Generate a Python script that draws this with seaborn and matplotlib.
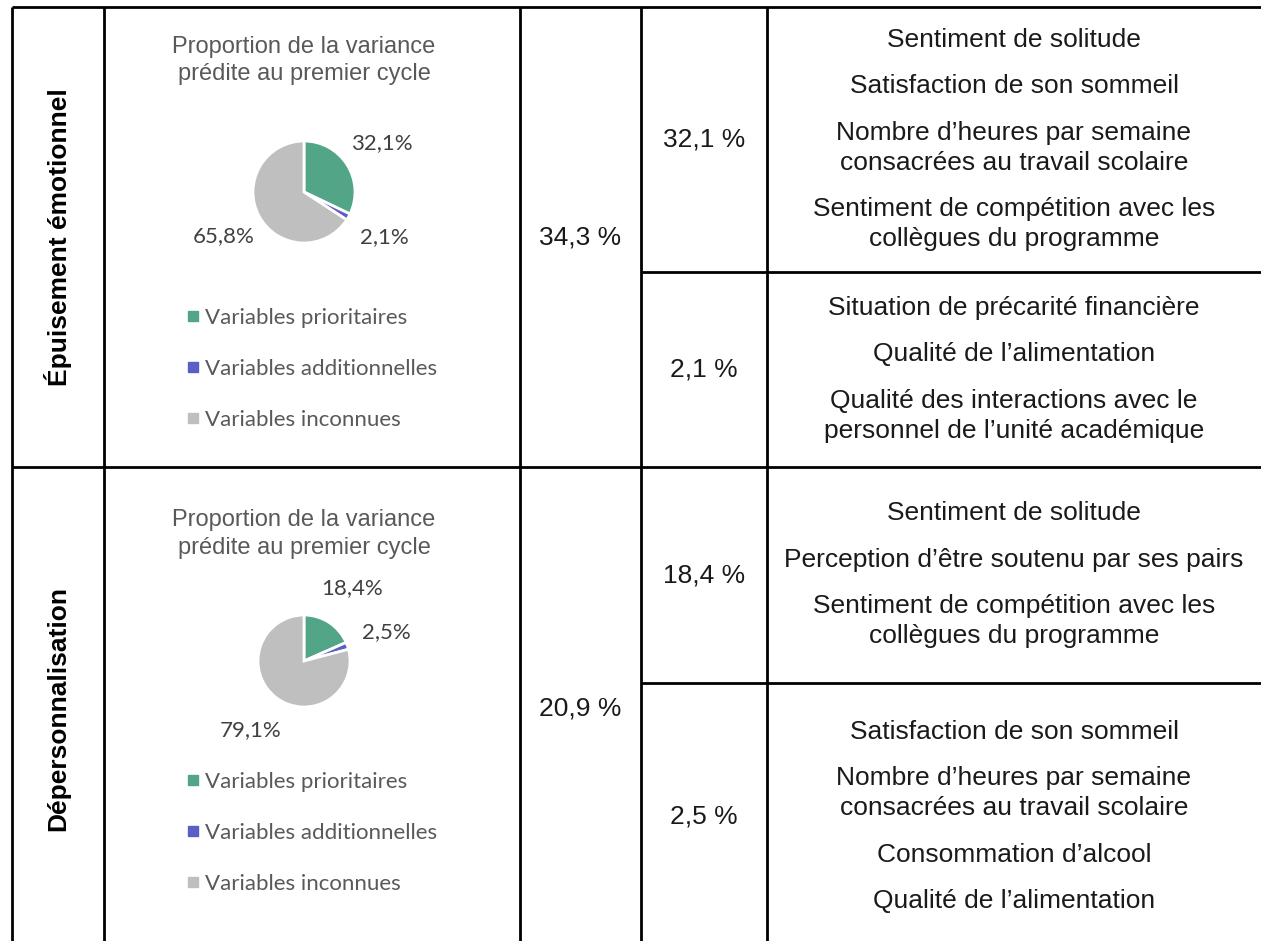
import matplotlib
matplotlib.use("Agg")
import matplotlib.pyplot as plt
from matplotlib.lines import Line2D
import seaborn as sns

# ---- data -------------------------------------------------------------
dimensions = ["Épuisement émotionnel", "Dépersonnalisation"]
pie_title = ["Proportion de la variance", "prédite au premier cycle"]
pie_labels = ["Variables prioritaires", "Variables additionnelles", "Variables inconnues"]
pie_colors = ["#53A587", "#5A5FC4", "#BFBFBF"]
pie_values = [
    [32.1, 2.1, 65.8],   # Épuisement émotionnel
    [18.4, 2.5, 79.1],   # Dépersonnalisation
]
total_variance = ["34,3 %", "20,9 %"]
block_variance = [["32,1 %", "2,1 %"], ["18,4 %", "2,5 %"]]
block_variables = [
    [
        ["Sentiment de solitude",
         "Satisfaction de son sommeil",
         "Nombre d’heures par semaine\nconsacrées au travail scolaire",
         "Sentiment de compétition avec les\ncollègues du programme"],
        ["Situation de précarité financière",
         "Qualité de l’alimentation",
         "Qualité des interactions avec le\npersonnel de l’unité académique"],
    ],
    [
        ["Sentiment de solitude",
         "Perception d’être soutenu par ses pairs",
         "Sentiment de compétition avec les\ncollègues du programme"],
        ["Satisfaction de son sommeil",
         "Nombre d’heures par semaine\nconsacrées au travail scolaire",
         "Consommation d’alcool",
         "Qualité de l’alimentation"],
    ],
]

# ---- layout (pixels) ---------------------------------------------------
W, H = 1261, 941
col_x = [12, 104, 520, 641, 767]
row_y = [7, 467, 950]
split_y = [272, 683]
pie_center = [(304, 192), (304, 661)]
pie_radius = [51, 46]
pct_dist = [1.8, 1.9]
title_y = [(47, 74), (520, 548)]
legend_y = [369, 833]

sns.set_theme(style="white")
plt.rcParams["font.family"] = ["Liberation Sans", "DejaVu Sans"]

fig = plt.figure(figsize=(W / 100, H / 100), dpi=100)
ax = fig.add_axes([0, 0, 1, 1])
ax.set_xlim(0, W)
ax.set_ylim(H, 0)
ax.axis("off")

lw = 2.0
# grid of the table
ax.hlines(row_y[:2], col_x[0], W, color="black", lw=lw)
ax.hlines(split_y, col_x[3], W, color="black", lw=lw)
ax.vlines(col_x, row_y[0], row_y[-1], color="black", lw=lw)


def stacked_text(items, xc, yc, size, color, line_step=30, gap=16.5, **kw):
    lines, ys, y = [], [], 0.0
    for i, item in enumerate(items):
        if i:
            y += gap
        for j, ln in enumerate(item.split("\n")):
            if i or j:
                y += line_step
            lines.append(ln)
            ys.append(y)
    off = yc - (ys[0] + ys[-1]) / 2
    for ln, yy in zip(lines, ys):
        ax.text(xc, yy + off, ln, ha="center", va="center", fontsize=size,
                color=color, **kw)


text_col = "#1a1a1a"
legends = []
for r in range(2):
    top, bot = row_y[r], row_y[r + 1]
    mid = (top + bot) / 2
    # dimension label
    ax.text((col_x[0] + col_x[1]) / 2, mid, dimensions[r], rotation=90,
            ha="center", va="center", fontsize=19, fontweight="bold", color="black")
    # total variance
    ax.text((col_x[2] + col_x[3]) / 2, mid, total_variance[r],
            ha="center", va="center", fontsize=19, color=text_col)
    # blocks
    bounds = [(top, split_y[r]), (split_y[r], bot)]
    for b, (b0, b1) in enumerate(bounds):
        bm = (b0 + b1) / 2
        ax.text((col_x[3] + col_x[4]) / 2, bm, block_variance[r][b],
                ha="center", va="center", fontsize=19, color=text_col)
        stacked_text(block_variables[r][b], (col_x[4] + W) / 2, bm, 19, text_col)

    # pie title
    for ln, yy in zip(pie_title, title_y[r]):
        ax.text(pie_center[r][0], yy, ln, ha="center", va="center",
                fontsize=17, color="#595959")

    # pie
    cx, cy = pie_center[r]
    rad = pie_radius[r]
    k = 2.6
    pax = fig.add_axes([(cx - k * rad) / W, 1 - (cy + k * rad) / H,
                        2 * k * rad / W, 2 * k * rad / H])
    pax.pie(pie_values[r], colors=pie_colors, startangle=90, counterclock=False,
            radius=1, autopct=lambda p: f"{p:.1f}%".replace(".", ","),
            pctdistance=pct_dist[r],
            wedgeprops=dict(edgecolor="white", linewidth=2),
            textprops=dict(fontsize=16, color="#404040", family=["Lato", "DejaVu Sans"]))
    pax.set_xlim(-k, k)
    pax.set_ylim(-k, k)
    pax.axis("off")

    # legend
    handles = [Line2D([0], [0], marker="s", linestyle="none", markersize=7,
                      markerfacecolor=c, markeredgecolor=c) for c in pie_colors]
    leg = ax.legend(handles, pie_labels, loc="center left",
                    bbox_to_anchor=(186, legend_y[r]), bbox_transform=ax.transData,
                    frameon=False, borderpad=0, borderaxespad=0, handlelength=0.6,
                    handletextpad=0.25, labelspacing=1.4,
                    prop=dict(family=["Lato", "DejaVu Sans"], size=16))
    for t in leg.get_texts():
        t.set_color("#595959")
    legends.append(leg)

ax.legend_ = None
for leg in legends:
    ax.add_artist(leg)

fig.savefig("out.png", dpi=100)
